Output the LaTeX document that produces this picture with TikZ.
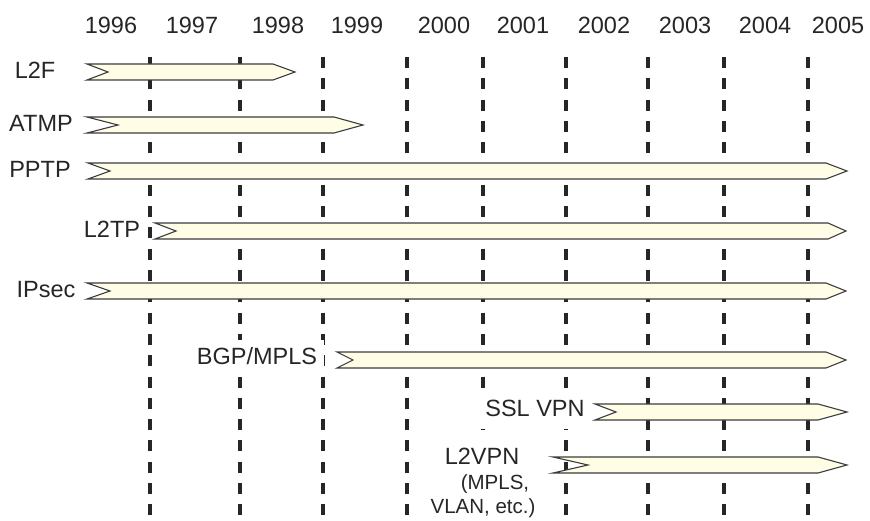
\documentclass[tikz,border=0pt]{standalone}
\usepackage{fontspec}
\setmainfont{Liberation Sans}

\definecolor{cream}{RGB}{255,253,230}
\definecolor{ink}{RGB}{38,38,38}

% bar: left end, notch, start of point, tip, top edge
\def\protobar#1#2#3#4#5{\draw[protobar] (#1,#5) -- (#3,#5) -- (#4,#5+8) -- (#3,#5+16) -- (#1,#5+16) -- (#2,#5+8) -- cycle;}

\begin{document}
\begin{tikzpicture}[x=1pt, y=-1pt, font=\fontsize{23.5}{28}\selectfont,
    yearline/.style={draw=ink, line width=3.2pt, dash pattern=on 11pt off 10.3pt},
    protobar/.style={draw=ink!90, line width=1.1pt, fill=cream},
    lbl/.style={fill=white, text=ink, inner xsep=6pt, inner ysep=8pt, text height=17pt, text depth=4pt},
    note/.style={lbl, font=\fontsize{20.5}{24}\selectfont, text height=15pt, inner ysep=6pt}]
  \useasboundingbox (0,0) rectangle (870,521);

  % years
  \foreach \yr/\xx in {1996/111,1997/192,1998/278,1999/357,2000/444,2001/523,2002/604,2003/685,2004/765,2005/838}
    \node[text=ink] (y\yr) at (\xx,25) {\yr};

  % year boundaries
  \foreach \xx in {150,240,323,407,483,566,648,724,808}
    \draw[yearline] (\xx,57) -- (\xx,521);

  % protocols
  \protobar{87}{108}{273}{295}{64}
  \protobar{87}{118}{334}{363}{117}
  \protobar{88}{110}{826}{847}{163}
  \protobar{155}{176}{828}{846}{223}
  \protobar{87}{110}{826}{846}{283}
  \protobar{337}{353}{826}{846}{352}
  \protobar{595}{616}{818}{847}{404}
  \protobar{553}{588}{818}{847}{457}

  \node[lbl] (l2f) at (35,72) {L2F};
  \node[lbl] (atmp) at (41,125) {ATMP};
  \node[lbl] (pptp) at (40,171) {PPTP};
  \node[lbl] (l2tp) at (112,231) {L2TP};
  \node[lbl] (ipsec) at (46,291) {IPsec};
  \node[lbl, inner xsep=7pt] (bgp) at (257,358) {BGP/MPLS};
  \node[lbl] (ssl) at (535,410) {SSL VPN};
  \node[lbl] (l2vpn) at (482,458) {L2VPN};
  \node[note] (mpls) at (495,484) {(MPLS,};
  \node[note] (vlan) at (483,508) {VLAN, etc.)};
\end{tikzpicture}
\end{document}
